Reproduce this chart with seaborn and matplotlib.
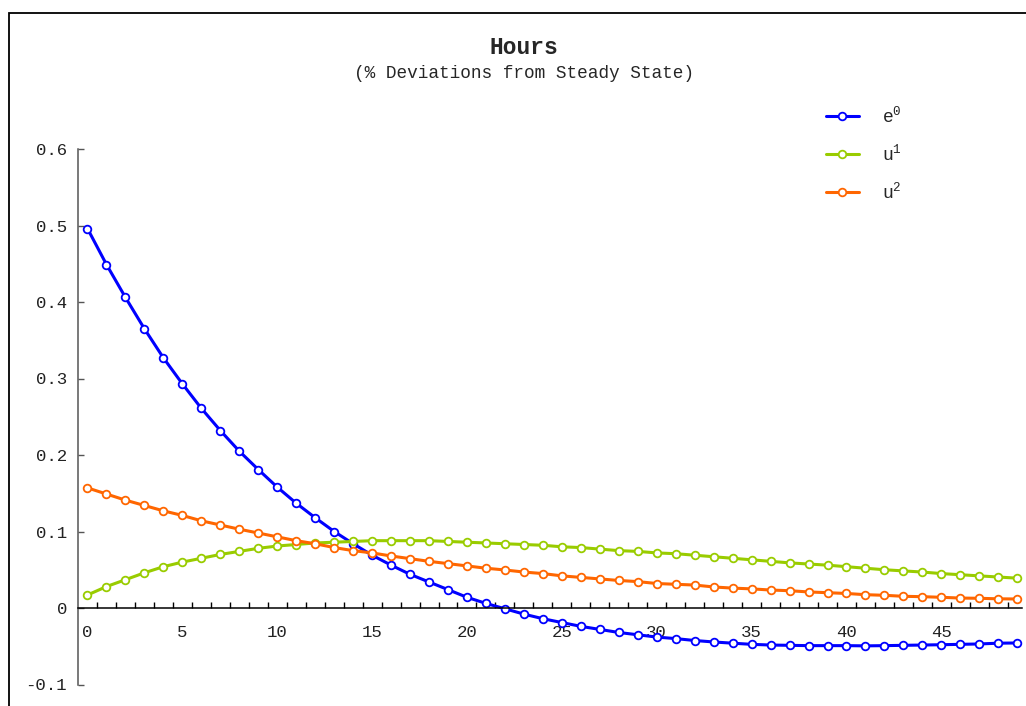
import numpy as np
import pandas as pd
import matplotlib
matplotlib.use("Agg")
import matplotlib.pyplot as plt
import seaborn as sns
from matplotlib.patches import Rectangle
from matplotlib.ticker import FixedLocator

# ---------------- data ----------------
periods = list(range(50))

e0 = [0.496, 0.449, 0.406, 0.365, 0.327, 0.293, 0.261, 0.232, 0.205, 0.181,
      0.158, 0.137, 0.118, 0.100, 0.084, 0.069, 0.056, 0.044, 0.034, 0.024,
      0.014, 0.006, -0.001, -0.008, -0.014, -0.019, -0.024, -0.028, -0.032, -0.035,
      -0.038, -0.040, -0.0425, -0.0444, -0.046, -0.0475, -0.0484, -0.0488, -0.0492, -0.0492,
      -0.0492, -0.0495, -0.0492, -0.0488, -0.0484, -0.048, -0.0475, -0.047, -0.046, -0.0457]

u1 = [0.017, 0.028, 0.037, 0.046, 0.054, 0.060, 0.065, 0.070, 0.074, 0.078,
      0.081, 0.083, 0.085, 0.086, 0.087, 0.088, 0.088, 0.088, 0.088, 0.087,
      0.086, 0.085, 0.084, 0.083, 0.082, 0.080, 0.079, 0.077, 0.075, 0.074,
      0.072, 0.071, 0.069, 0.067, 0.065, 0.063, 0.061, 0.059, 0.0575, 0.056,
      0.054, 0.052, 0.050, 0.0485, 0.047, 0.045, 0.0435, 0.042, 0.0405, 0.039]

u2 = [0.157, 0.149, 0.141, 0.134, 0.127, 0.121, 0.114, 0.1085, 0.103, 0.098,
      0.093, 0.088, 0.084, 0.079, 0.075, 0.072, 0.068, 0.0645, 0.061, 0.058,
      0.055, 0.052, 0.0497, 0.047, 0.045, 0.042, 0.040, 0.038, 0.036, 0.0345,
      0.032, 0.031, 0.030, 0.0275, 0.026, 0.025, 0.0235, 0.0226, 0.021, 0.020,
      0.019, 0.0174, 0.0166, 0.0153, 0.0148, 0.014, 0.013, 0.0127, 0.012, 0.0118]

series_labels = [r"$\mathrm{e}^{0}$", r"$\mathrm{u}^{1}$", r"$\mathrm{u}^{2}$"]
series_colors = ["#0000FF", "#99CC00", "#FF6600"]

y_ticks = [-0.1, 0.0, 0.1, 0.2, 0.3, 0.4, 0.5, 0.6]
y_tick_labels = ["-0.1", "0", "0.1", "0.2", "0.3", "0.4", "0.5", "0.6"]
x_ticks = [0, 5, 10, 15, 20, 25, 30, 35, 40, 45]
x_tick_labels = ["0", "5", "10", "15", "20", "25", "30", "35", "40", "45"]

title = "Hours"
subtitle = "(% Deviations from Steady State)"

# ---------------- style ----------------
sns.set_style("white")
plt.rcParams["font.family"] = ["Liberation Mono", "DejaVu Sans Mono"]
plt.rcParams["mathtext.fontset"] = "custom"
plt.rcParams["mathtext.rm"] = "Liberation Mono"
plt.rcParams["mathtext.it"] = "Liberation Mono"

W, H = 1026, 706
fig = plt.figure(figsize=(W / 100, H / 100), dpi=100)
fig.patch.set_facecolor("white")

ax_left, ax_right, ax_top, ax_bot = 78, 1022, 149, 684.5
ax = fig.add_axes([ax_left / W, 1 - ax_bot / H, (ax_right - ax_left) / W, (ax_bot - ax_top) / H])
ax.set_facecolor("white")

for vals, lab, col in zip([e0, u1, u2], series_labels, series_colors):
    sns.lineplot(x=periods, y=vals, ax=ax, color=col, linewidth=2.2,
                 marker="o", markersize=5.5, markerfacecolor="white",
                 markeredgecolor=col, markeredgewidth=1.3, label=lab)

ax.set_xlim(-0.5, 49.25)
ax.set_ylim(-0.1, 0.6)
ax.set_xlabel("")
ax.set_ylabel("")

# spines
ax.spines["top"].set_visible(False)
ax.spines["right"].set_visible(False)
ax.spines["bottom"].set_position(("data", 0))
ax.spines["bottom"].set_color("black")
ax.spines["bottom"].set_linewidth(1.1)
ax.spines["left"].set_color("#555555")
ax.spines["left"].set_linewidth(1.1)

# x ticks: labels at integers (no marks), marks between periods
ax.set_xticks(x_ticks)
ax.set_xticklabels(x_tick_labels)
ax.xaxis.set_minor_locator(FixedLocator(np.arange(0.5, 49, 1.0)))
ax.tick_params(axis="x", which="both", bottom=True, top=False)
ax.tick_params(axis="x", which="major", length=0, pad=12, labelsize=12.5, labelcolor="#222222")
ax.tick_params(axis="x", which="minor", direction="in", length=4, width=1, color="black")

ax.set_yticks(y_ticks)
ax.set_yticklabels(y_tick_labels)
ax.tick_params(axis="y", which="major", left=True, right=False, direction="in", length=4.5, width=1,
               color="#555555", pad=8, labelsize=12.5, labelcolor="#222222")

# legend
ax.legend(loc="upper left", bbox_to_anchor=(826 / W, 1 - 106 / H),
          bbox_transform=fig.transFigure, frameon=False, borderpad=0,
          borderaxespad=0, handlelength=1.8, handletextpad=1.3,
          labelspacing=0.95, fontsize=13)

# titles
fig.text(0.511, 1 - 47 / H, title, ha="center", va="center", fontsize=16.5, fontweight="bold")
fig.text(0.511, 1 - 73 / H, subtitle, ha="center", va="center", fontsize=12.8)

# outer frame
fig.add_artist(Rectangle((8.5 / W, -0.5), 2.0, 0.5 + 1 - 12.5 / H, transform=fig.transFigure,
                         fill=False, edgecolor="black", linewidth=1.3, clip_on=False))

fig.savefig("out.png", dpi=100)
